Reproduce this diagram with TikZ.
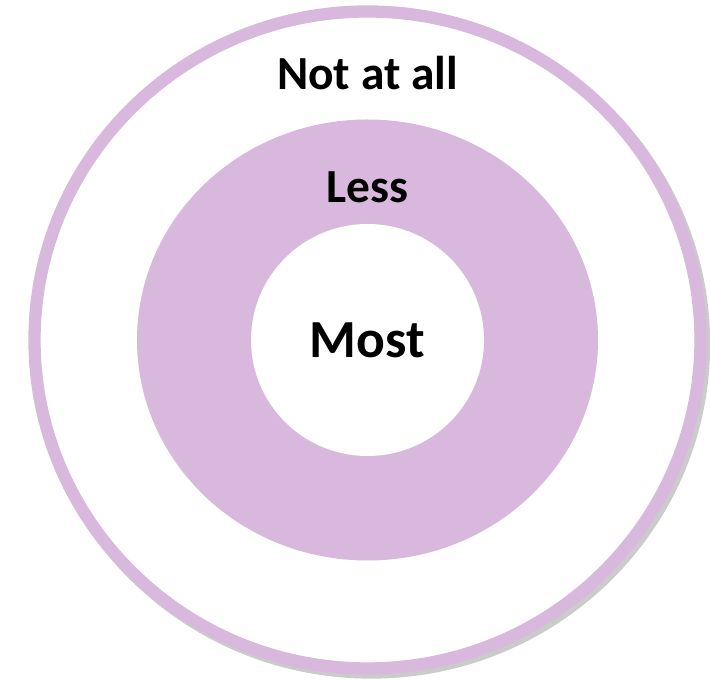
\documentclass[tikz,border=0pt]{standalone}
\usepackage{fontspec}
\setmainfont{Carlito}
\usepackage{tikz}
\usetikzlibrary{positioning}
\definecolor{RingLilac}{HTML}{D8B8DC}
\definecolor{RingShadow}{HTML}{8C8C8C}

\begin{document}
\begin{tikzpicture}[
  font=\bfseries,
  ringlab/.style={font=\fontsize{27}{32}\selectfont\bfseries, inner sep=0pt},
  corelab/.style={font=\fontsize{30.5}{36}\selectfont\bfseries, inner sep=0pt}
]
\useasboundingbox (0,0) rectangle (14.2,13.6);
\coordinate (centre) at (7.35,6.8);
% outer ring with its shadow
\draw[RingShadow, line width=7pt, opacity=0.45] ([shift={(0.07,-0.08)}]centre) ellipse [x radius=6.66cm, y radius=6.57cm];
\draw[RingLilac, line width=7pt, fill=white] (centre) ellipse [x radius=6.66cm, y radius=6.57cm];
% middle band and core
\fill[RingLilac] (centre) ellipse [x radius=4.61cm, y radius=4.41cm];
\fill[white] (centre) ellipse [x radius=2.33cm, y radius=2.32cm];
\node[ringlab] at (7.35,12.14) (notatall) {Not at all};
\node[ringlab] at (7.35,9.86) (less) {Less};
\node[corelab] at (centre) (most) {Most};
\end{tikzpicture}
\end{document}
